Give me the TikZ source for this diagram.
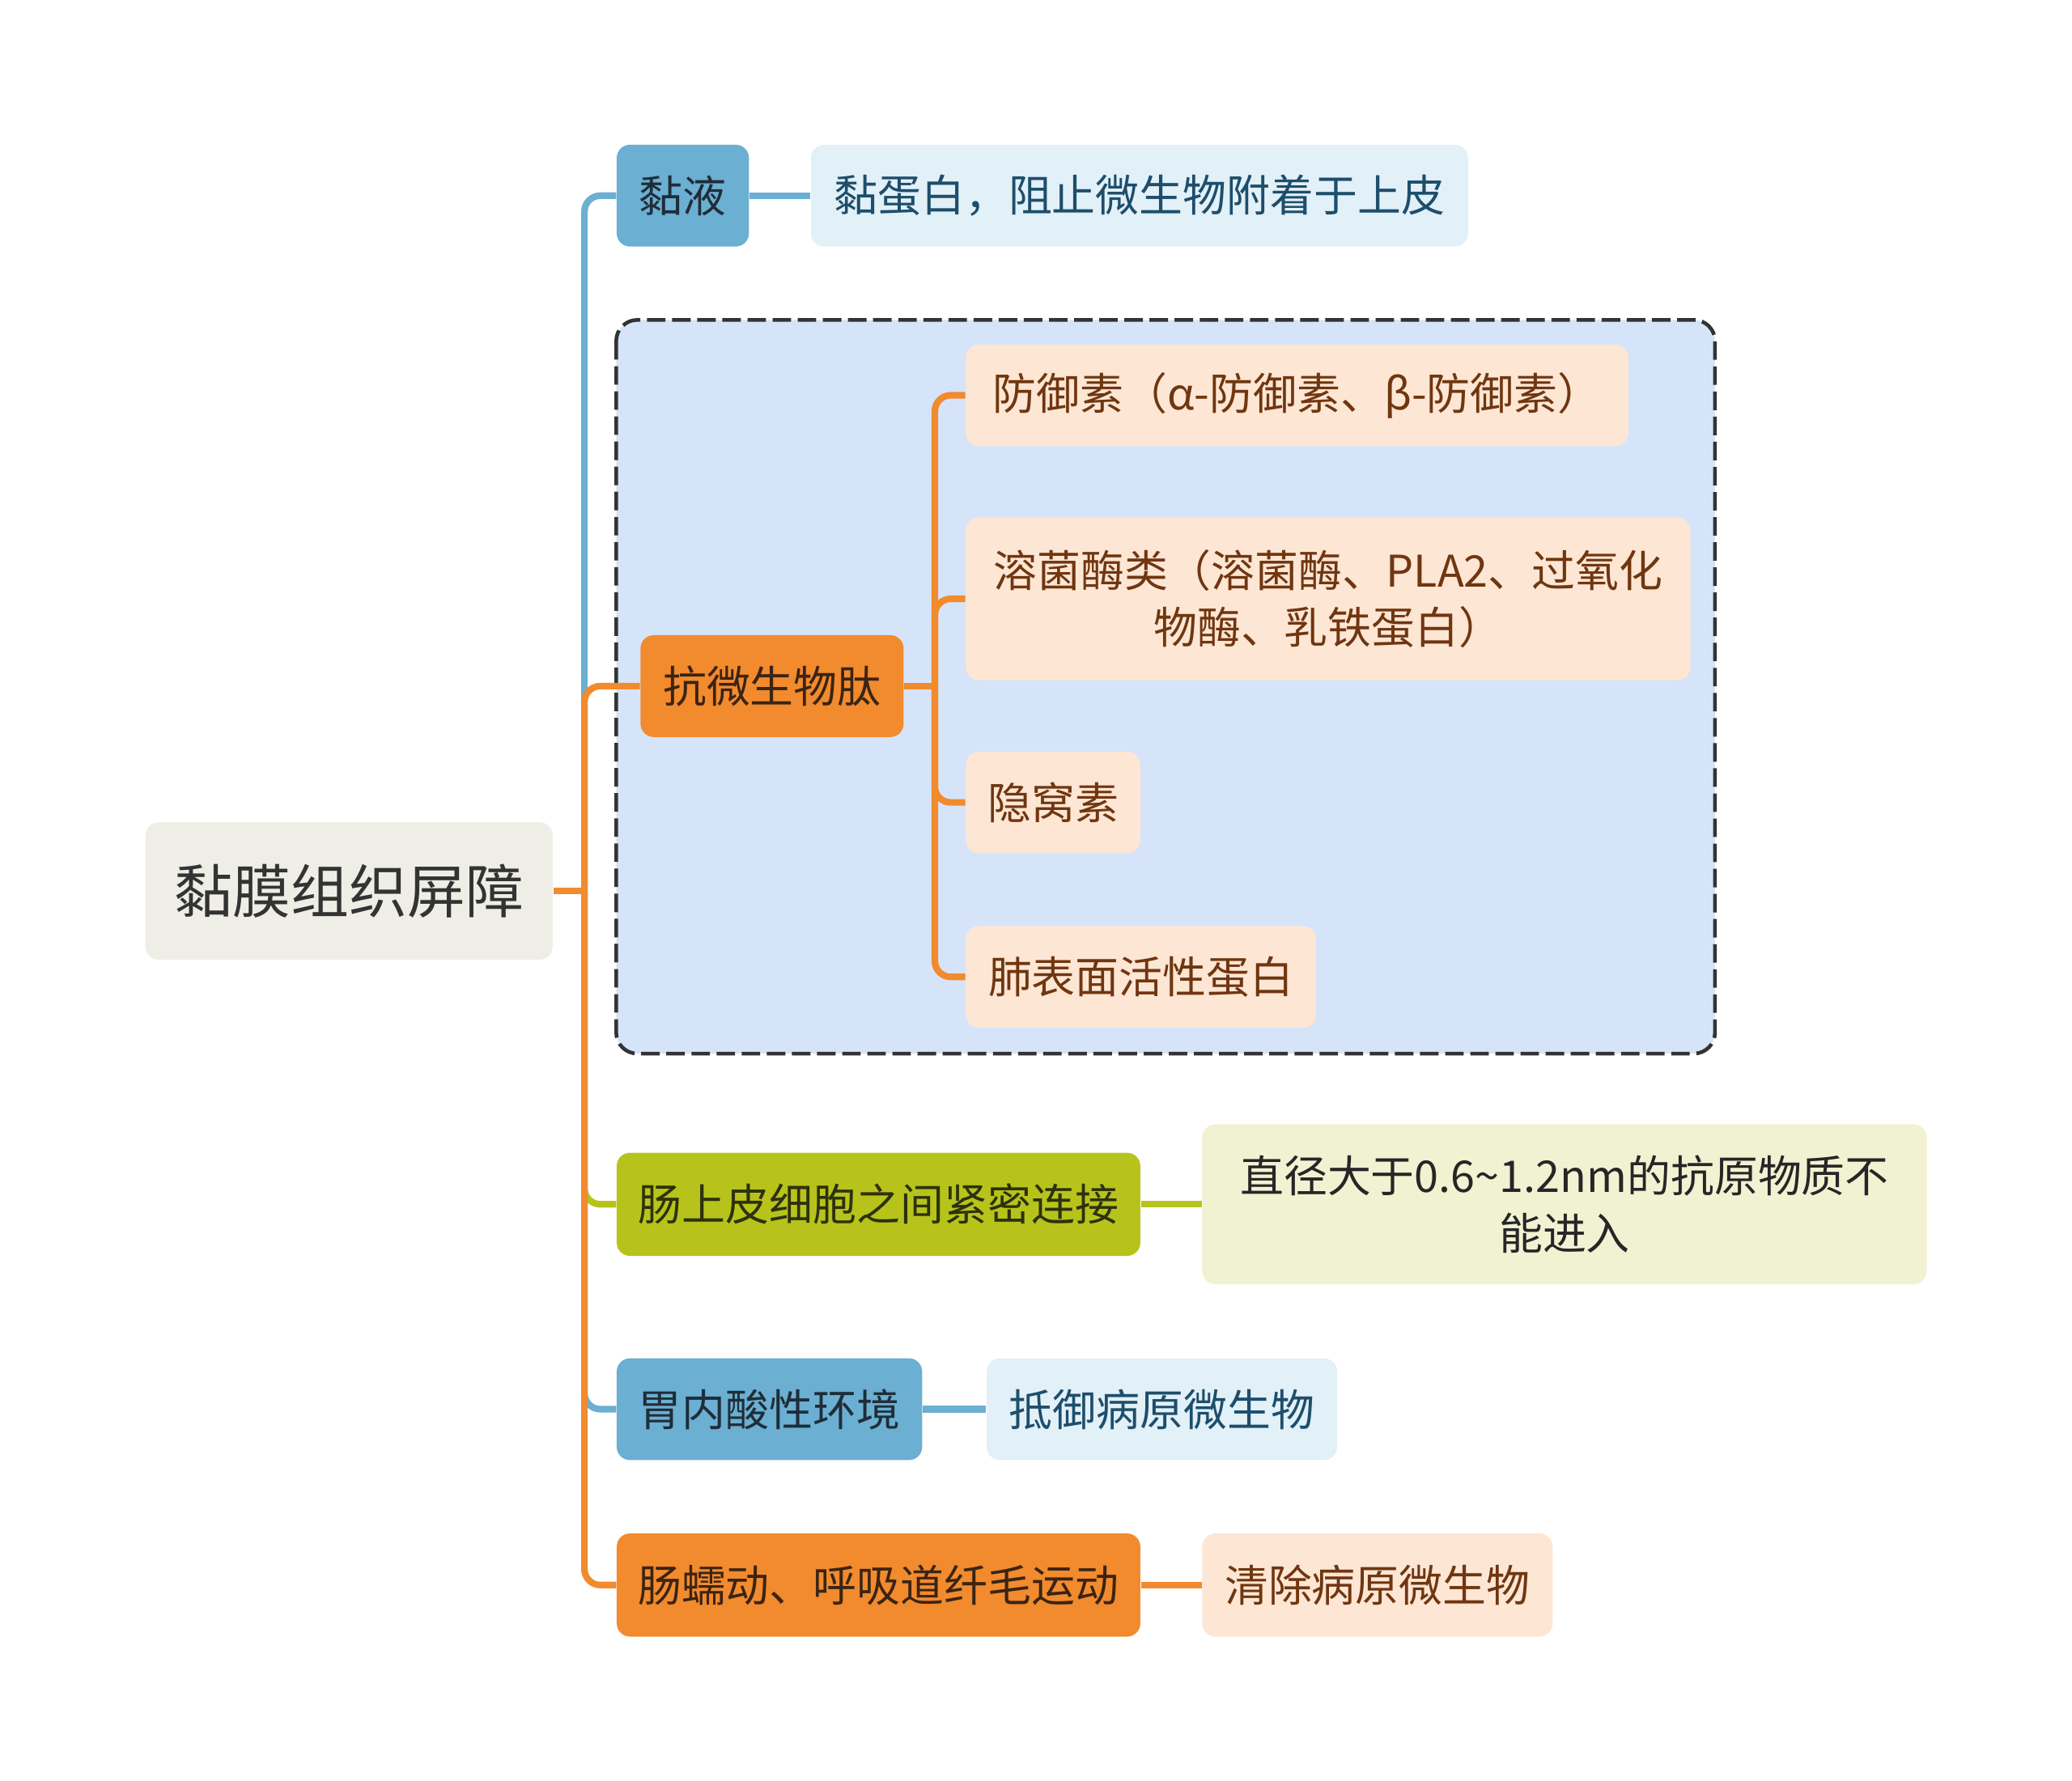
\documentclass[tikz,border=0pt]{standalone}
\usepackage{fontspec}
\setmainfont{Noto Sans CJK SC}
\usetikzlibrary{positioning}

\definecolor{rootfill}{HTML}{EFEEE6}
\definecolor{bluefill}{HTML}{6BAFD2}
\definecolor{bluelight}{HTML}{E2F0F7}
\definecolor{bluetext}{HTML}{1D4E6C}
\definecolor{bluedark}{HTML}{1F2D38}
\definecolor{orangefill}{HTML}{F28A2E}
\definecolor{orangelight}{HTML}{FDE6D4}
\definecolor{orangedark}{HTML}{3B2412}
\definecolor{browntext}{HTML}{703610}
\definecolor{greenfill}{HTML}{B7C31B}
\definecolor{greenlight}{HTML}{F0F2D2}
\definecolor{greendark}{HTML}{2D310B}
\definecolor{groupfill}{HTML}{D6E4FA}

\begin{document}
\begin{tikzpicture}[%
    x=0.5pt, y=-0.5pt,
    every node/.style={inner sep=0pt, rounded corners=5pt, align=center,
        font=\fontsize{16.5}{21.5}\selectfont},
    rootbox/.style={fill=rootfill, text=black!80, minimum width=154pt,
        minimum height=52pt, font=\fontsize{22}{26}\selectfont},
    bluebox/.style={fill=bluefill, text=bluedark, minimum height=38.5pt, anchor=west},
    bluenote/.style={fill=bluelight, text=bluetext, minimum height=38.5pt},
    orangebox/.style={fill=orangefill, text=orangedark, minimum height=38.5pt, anchor=west},
    orangenote/.style={fill=orangelight, text=browntext, minimum height=38.5pt},
    greenbox/.style={fill=greenfill, text=greendark, minimum height=39pt, anchor=west},
    greennote/.style={fill=greenlight, text=black!85, minimum height=60.5pt},
    groupbox/.style={fill=groupfill, draw=black!80, line width=1.4pt,
        dash pattern=on 7pt off 2.5pt, rounded corners=8pt},
    link/.style={line width=2.5pt, rounded corners=6pt}
    ]

    \useasboundingbox (0,0) rectangle (1567,1346.7);

    % dashed group round the peptides
    \draw[groupbox] (466,242) rectangle (1297,797);

    \node[rootbox] (root) at (264,674) {黏膜组织屏障};

    \node[bluebox, minimum width=50pt] (mucus) at (466,148) {黏液};
    \node[bluenote, minimum width=248.5pt, right=23pt of mucus] (mucin) {黏蛋白，阻止微生物附着于上皮};

    \node[orangebox, minimum width=99.5pt] (amp) at (484,519) {抗微生物肽};
    \node[orangenote, minimum width=250.5pt, anchor=west] (defensin) at (730,299) {防御素（α-防御素、β-防御素）};
    \node[orangenote, minimum width=274pt, minimum height=61.5pt, anchor=west] (lysozyme) at (730,453)
        {溶菌酶类（溶菌酶、PLA2、过氧化\\物酶、乳铁蛋白）};
    \node[orangenote, minimum width=66pt, anchor=west] (cryptdin) at (730,607) {隐窝素};
    \node[orangenote, minimum width=132.5pt, anchor=west] (surfactant) at (730,739) {肺表面活性蛋白};

    \node[greenbox, minimum width=198pt] (tight) at (466,911) {肠上皮细胞之间紧密连接};
    \node[greennote, minimum width=274pt, right=23pt of tight] (antigen)
        {直径大于0.6\textasciitilde1.2nm的抗原物质不\\能进入};

    \node[bluebox, minimum width=115.5pt] (acid) at (466,1066) {胃内酸性环境};
    \node[bluenote, minimum width=132.5pt, right=24pt of acid] (resist) {抵御病原微生物};

    \node[orangebox, minimum width=198pt, minimum height=39pt] (motion) at (466,1199) {肠蠕动、呼吸道纤毛运动};
    \node[orangenote, minimum width=132.5pt, minimum height=39pt, right=23pt of motion] (clear) {清除病原微生物};

    \coordinate (trunk) at (442,674);
    \coordinate (ampT) at (707,519);

    \draw[link, bluefill] (trunk) |- (mucus.west);
    \draw[link, bluefill] (mucus.east) -- (mucin.west);
    \draw[link, greenfill] (trunk) |- (tight.west);
    \draw[link, greenfill] (tight.east) -- (antigen.west);
    \draw[link, bluefill] (trunk) |- (acid.west);
    \draw[link, bluefill] (acid.east) -- (resist.west);

    \draw[link, orangefill] (root.east) -- (trunk);
    \draw[link, orangefill] (trunk) |- (amp.west);
    \draw[link, orangefill] (trunk) |- (motion.west);
    \draw[link, orangefill] (motion.east) -- (clear.west);
    \draw[link, orangefill] (amp.east) -- (ampT);
    \draw[link, orangefill] (ampT) |- (defensin.west);
    \draw[link, orangefill] (ampT) |- (lysozyme.west);
    \draw[link, orangefill] (ampT) |- (cryptdin.west);
    \draw[link, orangefill] (ampT) |- (surfactant.west);

\end{tikzpicture}
\end{document}
